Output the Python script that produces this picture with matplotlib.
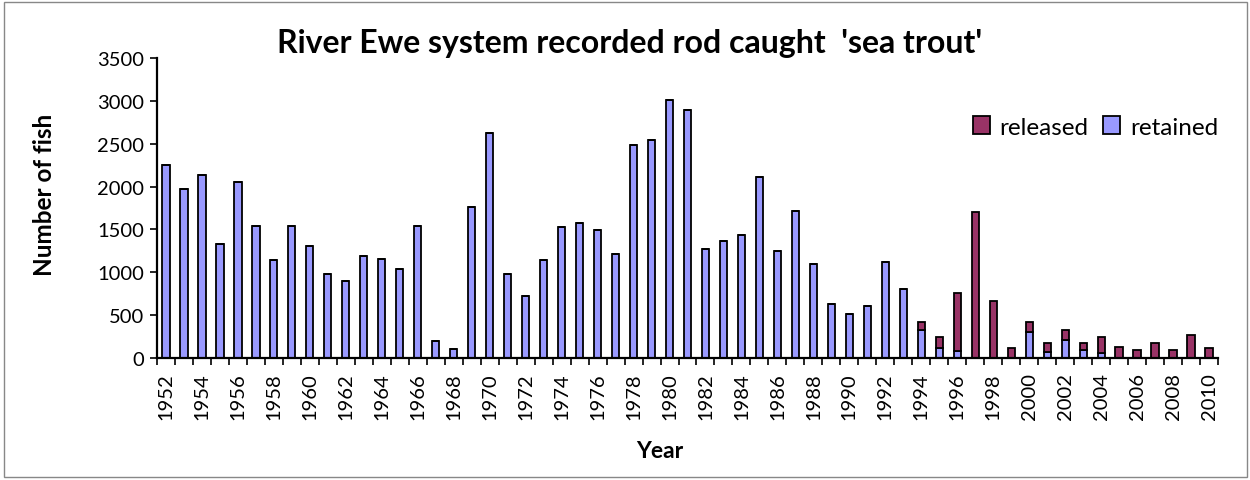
import matplotlib
matplotlib.use("Agg")
import matplotlib.pyplot as plt
from matplotlib.patches import Rectangle
from matplotlib.ticker import FixedLocator, NullFormatter

plt.rcParams['font.family'] = ['Lato', 'DejaVu Sans']

years = list(range(1952, 2011))
retained = [2250, 1970, 2130, 1330, 2050, 1540, 1140, 1540, 1310, 980,
            900, 1190, 1150, 1040, 1540, 200, 100, 1760, 2620, 980,
            720, 1140, 1530, 1570, 1490, 1210, 2480, 2540, 3010, 2890,
            1270, 1370, 1430, 2110, 1250, 1720, 1100, 630, 510, 610,
            1120, 800, 330, 120, 80, 0, 0, 0, 300, 70,
            210, 90, 55, 0, 0, 0, 0, 0, 0]
released = [0] * 42 + [85, 120, 680, 1700, 665, 115, 125, 100,
                       115, 80, 195, 130, 95, 170, 95, 268, 112]

retained_color = '#9999FF'
released_color = '#993366'

fig = plt.figure(figsize=(12.5, 4.81), dpi=100)
left, right, top, bottom = 157, 1218, 59, 359
ax = fig.add_axes([left / 1250, 1 - bottom / 481, (right - left) / 1250, (bottom - top) / 481])

x = list(range(len(years)))
w = 0.4
ax.bar(x, retained, width=w, color=retained_color, edgecolor='black',
       linewidth=1.3, label='retained', zorder=2)
ax.bar(x, released, width=w, bottom=retained, color=released_color,
       edgecolor='black', linewidth=1.3, label='released', zorder=2)

ax.set_xlim(-0.5, len(years) - 0.5)
ax.set_ylim(0, 3500)
ax.set_yticks(range(0, 3501, 500))
ax.tick_params(axis='y', labelsize=14.5, length=5, width=1.2, direction='out', pad=4)

# Year labels on every other bar, tick marks on the category boundaries
ax.set_xticks(x[::2])
ax.set_xticklabels([str(y) for y in years[::2]], rotation=90)
ax.tick_params(axis='x', which='major', length=0, labelsize=14.5, pad=10)
ax.xaxis.set_minor_locator(FixedLocator([i - 0.5 for i in range(len(years) + 1)]))
ax.xaxis.set_minor_formatter(NullFormatter())
ax.tick_params(axis='x', which='minor', length=5, width=1.2, direction='out')

for side in ('top', 'right'):
    ax.spines[side].set_visible(False)
for side in ('left', 'bottom'):
    ax.spines[side].set_linewidth(1.6)
    ax.spines[side].set_color('black')

ax.set_ylabel('Number of fish', fontsize=17.5, fontweight='bold', va='center')
ax.yaxis.set_label_coords((45 - left) / (right - left), 0.547)
ax.set_xlabel('Year', fontsize=16.5, fontweight='bold', va='center')
ax.xaxis.set_label_coords((660 - left) / (right - left), (bottom - 452) / (bottom - top))
fig.text(630 / 1250, 1 - 44 / 481, "River Ewe system recorded rod caught  'sea trout'",
         ha='center', va='center', fontsize=23, fontweight='bold')

handles, labels = ax.get_legend_handles_labels()
ax.legend(handles[::-1], labels[::-1], loc='center right',
          bbox_to_anchor=((1218 - left) / (right - left), 0.77),
          ncol=2, frameon=False, fontsize=17.5, handlelength=0.7, handleheight=0.7,
          handletextpad=0.4, columnspacing=0.6, borderaxespad=0, borderpad=0)

# Chart area border
fig.patches.append(Rectangle((4 / 1250, 3 / 481), 1243 / 1250, 475 / 481,
                             transform=fig.transFigure, fill=False,
                             edgecolor='#888888', linewidth=1.0))

fig.savefig('out.png', dpi=100)
